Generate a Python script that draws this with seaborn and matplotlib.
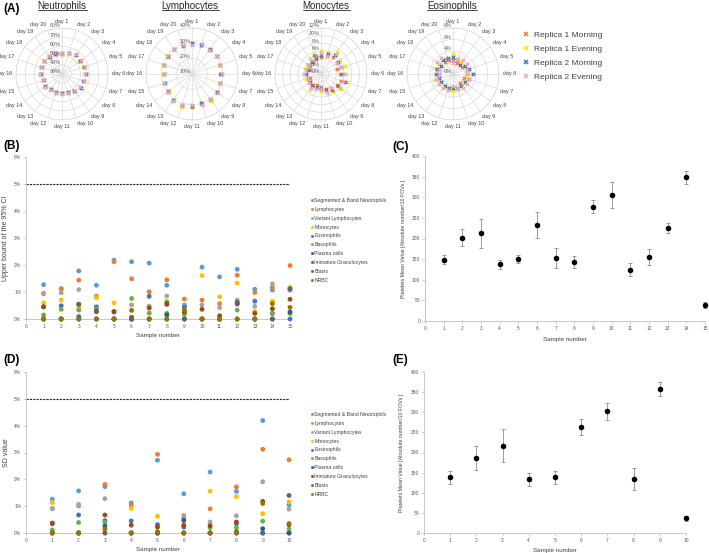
import numpy as np
import pandas as pd
import matplotlib
matplotlib.use('Agg')
import matplotlib.pyplot as plt
from matplotlib.lines import Line2D
import seaborn as sns

sns.set_theme(style='white')
plt.rcParams['font.family'] = ['Liberation Sans', 'DejaVu Sans']

W, H = 709, 553

# ---------- panel A : daily values per replica (%) ----------
days = [f'day {i}' for i in range(1, 21)]
replicas = ['Replica 1 Morning', 'Replica 1 Evening', 'Replica 2 Morning', 'Replica 2 Evening']
replica_colors = ['#ED7D31', '#FFE600', '#4472C4', '#E4A6CB']

neut_r1m = [52.0, 54.0, 55.5, 54.5, 55.0, 56.0, 55.5, 54.0, 53.5, 51.5, 50.5, 51.5, 50.0, 53.5, 51.0, 53.5, 53.0, 54.5, 53.0, 52.5]
neut_r1e = [51.0, 53.0, 56.0, 53.5, 54.5, 55.0, 55.0, 55.5, 52.5, 50.5, 51.5, 50.5, 51.0, 52.5, 52.0, 52.5, 54.0, 53.5, 54.0, 53.5]
neut_r2m = [52.5, 53.5, 55.0, 54.0, 55.5, 56.0, 54.5, 55.0, 53.0, 51.0, 51.0, 51.0, 50.5, 53.0, 51.5, 53.0, 53.5, 54.0, 53.5, 53.0]
neut_r2e = [53.0, 54.5, 56.5, 55.0, 56.0, 55.5, 55.5, 54.5, 53.5, 52.0, 51.5, 52.0, 51.0, 53.5, 52.0, 54.0, 54.0, 54.5, 54.0, 53.5]

lymph_r1m = [30.0, 30.5, 29.5, 30.0, 29.5, 28.5, 29.0, 30.5, 31.0, 30.5, 31.5, 32.0, 31.5, 29.5, 29.0, 28.0, 29.5, 29.0, 30.5, 30.0]
lymph_r1e = [29.5, 29.5, 30.5, 29.5, 28.5, 29.5, 28.5, 29.5, 31.5, 29.5, 30.5, 32.5, 30.5, 28.5, 29.5, 29.0, 30.0, 30.0, 29.5, 30.5]
lymph_r2m = [30.0, 30.0, 30.0, 30.5, 29.0, 29.0, 29.5, 30.0, 30.5, 30.0, 31.0, 31.5, 31.0, 29.0, 28.5, 28.5, 29.0, 29.5, 30.0, 29.5]
lymph_r2e = [29.0, 30.5, 29.0, 30.0, 29.5, 29.5, 29.0, 31.0, 30.5, 31.0, 30.5, 31.5, 31.5, 29.5, 29.0, 28.5, 29.5, 30.0, 30.5, 30.0]

mono_r1m = [4.5, 5.0, 5.5, 5.0, 4.5, 5.0, 5.5, 5.0, 4.5, 4.0, 3.5, 3.0, 3.5, 3.5, 3.0, 4.0, 3.0, 3.5, 4.0, 4.0]
mono_r1e = [6.0, 6.0, 7.0, 6.0, 6.5, 6.5, 7.0, 6.5, 5.5, 5.5, 4.5, 4.0, 5.0, 4.0, 4.0, 4.5, 4.5, 4.5, 5.0, 5.5]
mono_r2m = [5.0, 5.5, 6.0, 5.5, 5.5, 5.5, 6.5, 5.5, 5.0, 4.5, 4.0, 3.5, 4.0, 3.5, 3.5, 4.0, 3.5, 4.0, 4.0, 4.5]
mono_r2e = [5.5, 5.0, 6.5, 5.0, 5.5, 6.0, 6.0, 6.0, 4.5, 5.0, 4.0, 4.0, 4.5, 4.0, 3.5, 4.5, 4.0, 4.0, 4.5, 5.0]

eos_r1m = [2.5, 2.0, 2.5, 2.0, 2.5, 2.5, 2.0, 2.5, 2.0, 2.5, 2.5, 3.0, 2.5, 2.5, 3.0, 2.5, 3.0, 3.0, 2.5, 2.5]
eos_r1e = [3.5, 3.0, 2.5, 2.5, 3.0, 3.0, 2.5, 2.5, 2.5, 3.0, 3.0, 2.5, 3.0, 3.0, 3.5, 3.0, 3.5, 3.0, 3.0, 3.0]
eos_r2m = [3.0, 2.5, 2.0, 2.5, 3.0, 3.5, 3.0, 2.5, 2.5, 2.5, 2.5, 2.5, 2.5, 2.5, 2.5, 3.0, 3.0, 2.5, 3.0, 3.0]
eos_r2e = [2.0, 2.5, 3.0, 3.0, 2.5, 2.5, 3.0, 3.0, 3.0, 2.5, 2.0, 3.0, 3.0, 3.0, 3.0, 2.5, 2.5, 3.5, 3.5, 2.5]

# ---------- panels B and D : per cell class (%) ----------
cells = ['Segmented & Band Neutrophils', 'Lymphocytes', 'Variant Lymphocytes', 'Monocytes',
         'Eosinophils', 'Basophils', 'Plasma cells', 'Immature Granulocytes', 'Blasts', 'NRBC']
cell_colors = ['#5B9BD5', '#ED7D31', '#A5A5A5', '#FFC000', '#4472C4',
               '#70AD47', '#255E91', '#9E480E', '#636363', '#997300']

samples_b = list(range(1, 16))
ci_neut = [1.27, 1.12, 1.78, 1.25, 2.18, 2.12, 2.07, 1.25, 0.52, 1.92, 1.56, 1.84, 1.10, 1.07, 1.07]
ci_lymph = [0.95, 1.12, 1.44, 0.85, 2.12, 1.49, 1.01, 1.45, 0.74, 0.70, 0.57, 1.62, 0.98, 1.17, 1.98]
ci_variant = [0.93, 0.97, 1.09, 0.00, 0.00, 0.52, 0.48, 0.85, 0.50, 0.52, 0.42, 0.70, 0.47, 1.30, 1.15]
ci_mono = [0.60, 0.70, 0.41, 0.79, 0.60, 0.00, 0.00, 0.66, 0.28, 1.61, 0.82, 1.33, 0.28, 0.66, 1.17]
ci_eos = [0.45, 0.49, 0.09, 0.45, 0.26, 0.00, 0.84, 0.60, 0.44, 0.00, 0.00, 0.55, 0.66, 0.20, 0.00]
ci_baso = [0.15, 0.36, 0.33, 0.38, 0.00, 0.76, 0.22, 0.21, 0.17, 0.00, 0.00, 0.33, 0.00, 0.21, 0.20]
ci_plasma = [0.00, 0.00, 0.00, 0.00, 0.00, 0.00, 0.00, 0.15, 0.00, 0.00, 0.00, 0.00, 0.00, 0.00, 0.26]
ci_ig = [0.45, 0.00, 0.54, 0.27, 0.28, 0.06, 0.41, 0.54, 0.26, 0.36, 0.12, 0.59, 0.21, 0.38, 0.73]
ci_blasts = [0.00, 0.00, 0.55, 0.30, 0.00, 0.00, 0.00, 0.00, 0.00, 0.00, 0.00, 0.62, 0.00, 0.00, 1.12]
ci_nrbc = [0.00, 0.00, 0.00, 0.00, 0.00, 0.32, 0.00, 0.00, 0.33, 0.00, 0.00, 0.00, 0.00, 0.57, 0.43]

samples_d = list(range(1, 11))
sd_neut = [1.26, 1.57, 1.73, 1.12, 2.71, 1.46, 2.27, 1.55, 4.19, 1.05]
sd_lymph = [0.91, 1.01, 1.81, 1.02, 2.93, 0.57, 0.90, 1.72, 3.12, 2.73]
sd_variant = [0.91, 1.07, 1.28, 0.00, 0.00, 0.66, 0.41, 0.64, 1.91, 0.89]
sd_mono = [1.13, 0.00, 0.00, 0.91, 0.62, 0.00, 1.56, 1.35, 0.72, 1.16]
sd_eos = [0.34, 0.67, 0.46, 0.45, 0.31, 0.22, 0.00, 0.34, 0.00, 0.00]
sd_baso = [0.11, 0.39, 0.40, 0.00, 0.00, 0.00, 0.20, 0.20, 0.44, 0.15]
sd_plasma = [0.00, 0.00, 0.26, 0.00, 0.00, 0.47, 0.00, 0.00, 0.16, 0.00]
sd_ig = [0.37, 0.00, 0.67, 0.29, 0.22, 0.29, 0.27, 0.41, 1.18, 0.31]
sd_blasts = [0.00, 0.00, 0.00, 0.00, 0.00, 0.00, 0.00, 0.05, 0.00, 1.40]
sd_nrbc = [0.00, 0.00, 0.15, 0.00, 0.05, 0.00, 0.00, 0.00, 1.10, 0.35]

# ---------- panels C and E : platelets ----------
samples_c = list(range(1, 16))
plt_mean_c = [148, 202, 213, 137, 150, 233, 153, 143, 277, 305, 124, 155, 225, 348, 38]
plt_err_c = [11, 20, 35, 10, 9, 32, 25, 15, 16, 32, 16, 20, 12, 16, 7]

samples_e = list(range(1, 11))
plt_mean_e = [138, 186, 217, 134, 138, 263, 302, 135, 358, 37]
plt_err_e = [17, 30, 41, 16, 17, 20, 21, 27, 17, 6]

fig = plt.figure(figsize=(W / 100, H / 100), dpi=100)


def ax_px(x0, y0, x1, y1, **kw):
    return fig.add_axes([x0 / W, 1 - y1 / H, (x1 - x0) / W, (y1 - y0) / H], **kw)


# ---------- A: radar-like polar scatter ----------
titles = []


def polar_panel(cx, tx, title, series, rticks):
    rad = 46
    ax = ax_px(cx - rad, 74 - rad, cx + rad, 74 + rad, projection='polar')
    ax.set_theta_zero_location('N')
    ax.set_theta_direction(-1)
    theta = np.arange(20) * 2 * np.pi / 20
    for vals, col in zip(series, replica_colors):
        ax.scatter(theta, vals, marker='x', s=6, linewidths=0.9, color=col, zorder=3)
    rmin, rmax = rticks[0], rticks[-1]
    ax.set_ylim(rmin, rmax)
    ax.set_yticks(rticks)
    ax.set_yticklabels([])
    ax.set_xticks(theta)
    ax.set_xticklabels([])
    ax.grid(color='#d9d9d9', linewidth=0.5)
    ax.spines['polar'].set_color('#d9d9d9')
    ax.spines['polar'].set_linewidth(0.5)
    for th, lab in zip(theta, days):
        s, c = np.sin(th), np.cos(th)
        ha = 'left' if s > 0.15 else ('right' if s < -0.15 else 'center')
        va = 'bottom' if c > 0.15 else ('top' if c < -0.15 else 'center')
        ax.annotate(lab, xy=(th, rmax), xytext=(2.7 * s, 2.7 * c), textcoords='offset points',
                    ha=ha, va=va, fontsize=3.9, color='#404040', annotation_clip=False)
    for r in rticks:
        ax.annotate(f'{r}%', xy=(0, r), xytext=(-0.8, 1.5), textcoords='offset points',
                    ha='right', va='center', fontsize=3.9, color='#595959', annotation_clip=False)
    t = fig.text(tx / W, 1 - 6 / H, title, ha='center', va='center', fontsize=7, color='#262626')
    titles.append(t)


polar_panel(62, 62, 'Neutrophils', [neut_r1m, neut_r1e, neut_r2m, neut_r2e], [30, 40, 50, 60, 70, 80])
polar_panel(192, 190, 'Lymphocytes', [lymph_r1m, lymph_r1e, lymph_r2m, lymph_r2e], [10, 20, 30, 40])
polar_panel(321, 326, 'Monocytes', [mono_r1m, mono_r1e, mono_r2m, mono_r2e], [0, 2, 4, 6, 8, 10, 12])
polar_panel(453, 452, 'Eosinophils', [eos_r1m, eos_r1e, eos_r2m, eos_r2e], [0, 2, 4, 6, 8])

handles = [Line2D([], [], marker='x', linestyle='none', color=c, markersize=3.5, markeredgewidth=1.1)
           for c in replica_colors]
fig.legend(handles, replicas, loc='upper left', bbox_to_anchor=(522 / W, 1 - 31 / H),
           frameon=False, fontsize=6, labelspacing=0.75, handletextpad=0.4,
           borderpad=0, borderaxespad=0, handlelength=1.0, labelcolor='#404040')


# ---------- B / D: scatter by cell class ----------
def long_table(samples, lists):
    rows = []
    for name, vals in zip(cells, lists):
        for s, v in zip(samples, vals):
            rows.append({'Sample': s, 'Value': v, 'Cell': name})
    return pd.DataFrame(rows)


def style_axes(ax):
    sns.despine(ax=ax)
    for side in ['left', 'bottom']:
        ax.spines[side].set_color('#bfbfbf')
        ax.spines[side].set_linewidth(0.6)
    ax.tick_params(bottom=True, left=True, length=2, width=0.5, color='#bfbfbf',
                   labelsize=3.5, labelcolor='#595959', pad=1.5)


def cell_panel(box, samples, lists, ylabel, legend_top, ylab_x, xlab_y):
    ax = ax_px(*box)
    df = long_table(samples, lists)
    sns.scatterplot(data=df, x='Sample', y='Value', hue='Cell', palette=cell_colors,
                    s=12, linewidth=0, ax=ax, clip_on=False, zorder=3)
    ax.axhline(5, color='#262626', linestyle=(0, (2, 1)), linewidth=0.8)
    ax.set_xlim(0, len(samples))
    ax.set_ylim(0, 6)
    ax.set_xticks(range(0, len(samples) + 1))
    ax.set_yticks(range(0, 7))
    ax.set_yticklabels([f'{v}%' for v in range(0, 7)])
    style_axes(ax)
    ax.set_xlabel('Sample number', fontsize=4.5, color='#404040')
    ax.set_ylabel(ylabel, fontsize=5, color='#404040')
    ax.yaxis.set_label_coords(ylab_x, 0.5)
    ax.xaxis.set_label_coords(0.5, xlab_y)
    sns.move_legend(ax, 'upper left', bbox_to_anchor=(310 / W, 1 - legend_top / H),
                    bbox_transform=fig.transFigure, frameon=False, title=None,
                    fontsize=3.7, labelspacing=0.75, handletextpad=0.05, markerscale=0.6,
                    borderpad=0, borderaxespad=0, handlelength=0.8, labelcolor='#404040')
    return ax


cell_panel((26, 157, 290, 319), samples_b,
           [ci_neut, ci_lymph, ci_variant, ci_mono, ci_eos, ci_baso, ci_plasma, ci_ig, ci_blasts, ci_nrbc],
           'Upper bound of the 95% CI', 198, -0.064, -0.085)
cell_panel((26, 372, 289, 533), samples_d,
           [sd_neut, sd_lymph, sd_variant, sd_mono, sd_eos, sd_baso, sd_plasma, sd_ig, sd_blasts, sd_nrbc],
           'SD value', 412, -0.061, -0.085)


# ---------- C / E: platelets mean with error bars ----------
def platelet_panel(box, samples, means, errs, ylab_x, xlab_y):
    ax = ax_px(*box)
    ax.errorbar(samples, means, yerr=errs, fmt='none', ecolor='#8c8c8c', elinewidth=0.6,
                capsize=1.5, capthick=0.6, clip_on=False)
    sns.scatterplot(x=samples, y=means, color='black', marker='o', s=16, linewidth=0,
                    ax=ax, clip_on=False, zorder=3)
    ax.set_xlim(0, len(samples))
    ax.set_ylim(0, 400)
    ax.set_xticks(range(0, len(samples) + 1))
    ax.set_yticks(range(0, 401, 50))
    style_axes(ax)
    ax.set_xlabel('Sample number', fontsize=4.5, color='#404040')
    ax.set_ylabel('Platelets Mean Value [Absolute number/10 FOVs ]', fontsize=3.8, color='#404040')
    ax.yaxis.set_label_coords(ylab_x, 0.5)
    ax.xaxis.set_label_coords(0.5, xlab_y)
    return ax


platelet_panel((425, 156, 705, 321), samples_c, plt_mean_c, plt_err_c, -0.068, -0.1)
platelet_panel((424, 372, 686, 533), samples_e, plt_mean_e, plt_err_e, -0.075, -0.095)

# panel letters
for lab, x, y in [('(A)', 3, 9), ('(B)', 3, 146), ('(C)', 392, 147), ('(D)', 3, 360), ('(E)', 392, 360)]:
    fig.text(x / W, 1 - y / H, lab, fontsize=8.5, fontweight='bold', va='center', ha='left', color='black')

# underline the radar titles
fig.canvas.draw()
inv = fig.transFigure.inverted()
for t in titles:
    bb = t.get_window_extent()
    (x0, y0), (x1, y1) = inv.transform([(bb.x0, bb.y0), (bb.x1, bb.y1)])
    fig.add_artist(Line2D([x0, x1], [y0 + 0.002, y0 + 0.002], color='#262626', linewidth=0.6,
                          transform=fig.transFigure))

fig.savefig('out.png', dpi=100)
